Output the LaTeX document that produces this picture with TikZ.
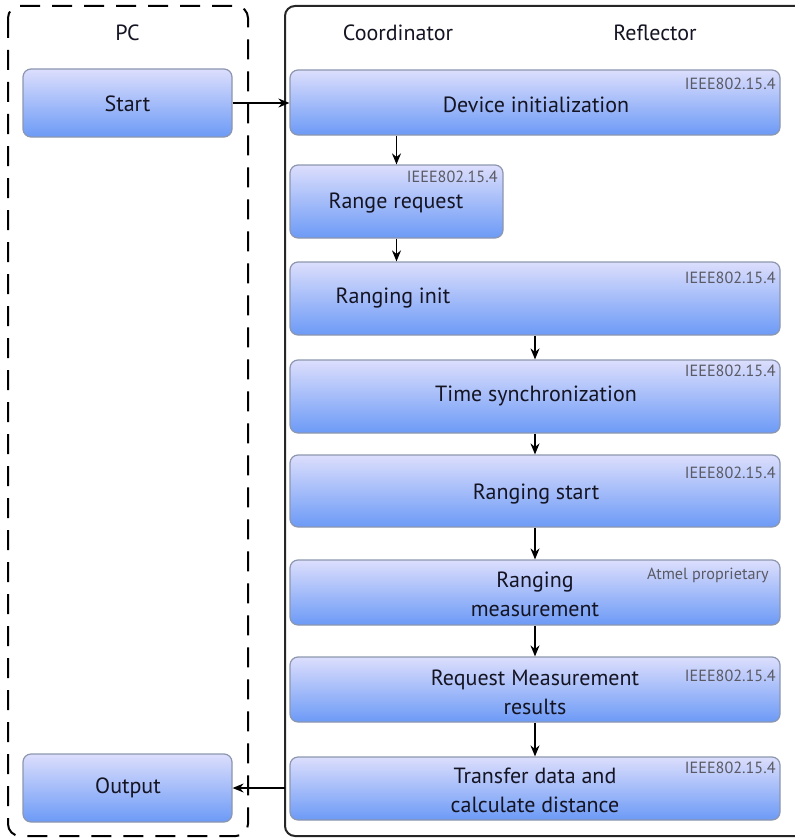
\documentclass[tikz,border=0pt]{standalone}
\usepackage{fontspec}
\setmainfont{PT Sans}
\usetikzlibrary{arrows.meta}
\definecolor{boxtop}{RGB}{220,222,252}
\definecolor{boxbot}{RGB}{108,154,246}
\definecolor{boxline}{RGB}{140,150,175}
\definecolor{txt}{RGB}{20,20,35}
\definecolor{lbl}{RGB}{90,90,100}
\tikzset{
  stepbox/.style={draw=boxline, line width=0.6pt, rounded corners=4pt,
    top color=boxtop, bottom color=boxbot, inner sep=0pt},
  maintext/.style={text=txt, font=\fontsize{11}{14.5}\selectfont, align=center, inner sep=0pt},
  headtext/.style={text=txt, font=\fontsize{11}{14.5}\selectfont, inner sep=0pt},
  stdlabel/.style={text=lbl, font=\fontsize{8.1}{9}\selectfont, inner sep=0pt, anchor=east},
  flow/.style={line width=0.8pt, draw=black, -{Stealth[length=5.5pt,width=4.5pt]}}
}
\begin{document}
\begin{tikzpicture}[x=0.5pt,y=-0.5pt]
\useasboundingbox (0,0) rectangle (795,840);
% containers
\draw[line width=1pt, dash pattern=on 10pt off 6pt, rounded corners=6pt] (8,6) rectangle (248,836);
\draw[line width=1pt, draw=black!85, rounded corners=5pt] (285,6) rectangle (820,836);
\coordinate (cout) at (285,788);
% headers
\node[headtext] (hpc) at (127.5,33) {PC};
\node[headtext] (hco) at (398,33) {Coordinator};
\node[headtext] (hre) at (655,33) {Reflector};
% boxes
\node[stepbox, minimum width=104.5pt, minimum height=34pt] (start) at (127.5,103) {};
\node[maintext] (tstart) at (127.5,104) {Start};
\node[stepbox, minimum width=104.5pt, minimum height=34pt] (out) at (127.5,788) {};
\node[maintext] (tout) at (128,788) {Output};

\node[stepbox, minimum width=245pt, minimum height=32.5pt] (dev) at (535,102.5) {};
\node[maintext] (tdev) at (536,105) {Device initialization};
\node[stdlabel] (ldev) at (776,84) {IEEE802.15.4};

\node[stepbox, minimum width=106.5pt, minimum height=36.5pt] (rr) at (396.5,201.5) {};
\node[maintext] (trr) at (396,203) {Range request};
\node[stdlabel] (lrr) at (498,177) {IEEE802.15.4};

\node[stepbox, minimum width=245pt, minimum height=36.5pt] (ri) at (535,298.5) {};
\node[maintext] (tri) at (393,298) {Ranging init};
\node[stdlabel] (lri) at (776,277.5) {IEEE802.15.4};

\node[stepbox, minimum width=245pt, minimum height=36.5pt] (ts) at (535,396.5) {};
\node[maintext] (tts) at (536,396) {Time synchronization};
\node[stdlabel] (lts) at (776,371) {IEEE802.15.4};

\node[stepbox, minimum width=245pt, minimum height=36pt] (rs) at (535,491) {};
\node[maintext] (trs) at (536,494) {Ranging start};
\node[stdlabel] (lrs) at (776,472.5) {IEEE802.15.4};

\node[stepbox, minimum width=245pt, minimum height=32.5pt] (rm) at (535,592.5) {};
\node[maintext] (trm) at (535,594) {Ranging\\measurement};
\node[stdlabel] (lrm) at (769,575) {Atmel proprietary};

\node[stepbox, minimum width=245pt, minimum height=32.5pt] (rq) at (535,689.5) {};
\node[maintext] (trq) at (535,692) {Request Measurement\\results};
\node[stdlabel] (lrq) at (776,676) {IEEE802.15.4};

\node[stepbox, minimum width=245pt, minimum height=31.5pt] (tr) at (535,788.5) {};
\node[maintext] (ttr) at (535,790) {Transfer data and\\calculate distance};
\node[stdlabel] (ltr) at (776,767.5) {IEEE802.15.4};

% connectors
\draw[flow] (start.east) -- (start.east -| dev.west);
\draw[flow] (rr.north |- dev.south) -- (rr.north);
\draw[flow] (rr.south) -- (rr.south |- ri.north);
\draw[flow] (ri.south) -- (ts.north);
\draw[flow] (ts.south) -- (rs.north);
\draw[flow] (rs.south) -- (rm.north);
\draw[flow] (rm.south) -- (rq.north);
\draw[flow] (rq.south) -- (tr.north);
\draw[flow] (cout) -- (out.east);
\end{tikzpicture}
\end{document}
